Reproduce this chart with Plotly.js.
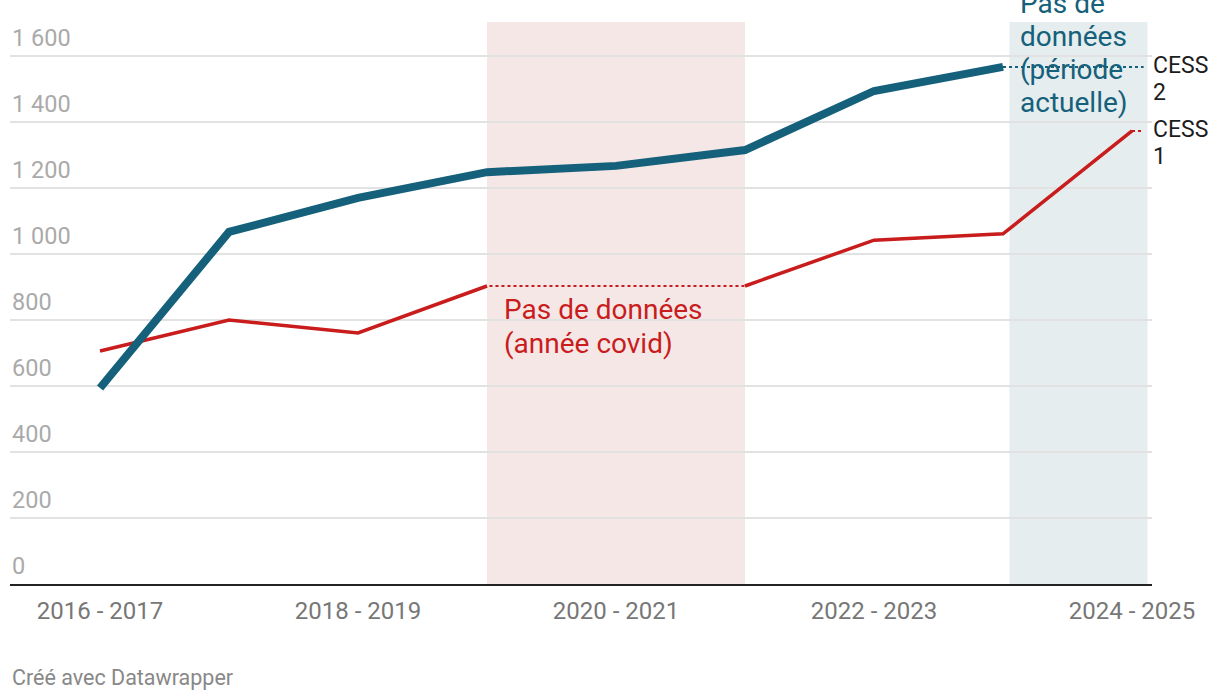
<!DOCTYPE html>
<html>
<head>
<meta charset="utf-8">
<script src="https://cdn.plot.ly/plotly-3.0.1.min.js"></script>
<style>
  html, body { margin: 0; padding: 0; background: #fff; }
  #chart { width: 1220px; height: 700px; }
</style>
</head>
<body>
<div id="chart"></div>
<script>
// ---- data ----
const categories = ["2016 - 2017", "2017 - 2018", "2018 - 2019", "2019 - 2020", "2020 - 2021",
                    "2021 - 2022", "2022 - 2023", "2023 - 2024", "2024 - 2025"];
const cess2 = [594, 1067, 1170, 1248, 1267, 1315, 1494, 1567, null];
const cess1 = [706, 800, 761, 903, null, 903, 1042, 1061, 1373];
const xTickLabels = ["2016 - 2017", "2018 - 2019", "2020 - 2021", "2022 - 2023", "2024 - 2025"];
const yTickValues = [0, 200, 400, 600, 800, 1000, 1200, 1400, 1600];
const yTickLabels = ["0", "200", "400", "600", "800", "1 000", "1 200", "1 400", "1 600"];
const cess2Label = ["CESS", "2"];
const cess1Label = ["CESS", "1"];
const covidNote = ["Pas de données", "(année covid)"];
const currentNote = ["Pas de", "données", "(période", "actuelle)"];
const covidRange = ["2019 - 2020", "2021 - 2022"];
const currentRange = ["2023 - 2024", "2024 - 2025"];
const credit = "Créé avec Datawrapper";

const BLUE = "#15607a";
const RED = "#c91d1d";
const idx = c => categories.indexOf(c);
const xs = categories.map((c, i) => i);

const lastIdx = arr => { let k = arr.length - 1; while (arr[k] == null) k--; return k; };
const bLast = lastIdx(cess2), rLast = lastIdx(cess1);
const extEnd = categories.length - 1 + 0.09;

const traces = [
  { x: xs, y: cess1, mode: "lines", connectgaps: true, hoverinfo: "skip",
    line: { color: RED, width: 2, dash: "dot" }, showlegend: false },
  { x: [rLast, extEnd], y: [cess1[rLast], cess1[rLast]], mode: "lines", hoverinfo: "skip",
    line: { color: RED, width: 2, dash: "dot" }, showlegend: false },
  { x: [bLast, extEnd], y: [cess2[bLast], cess2[bLast]], mode: "lines", hoverinfo: "skip",
    line: { color: BLUE, width: 2, dash: "dot" }, showlegend: false },
  { x: xs, y: cess1, name: "CESS 1", mode: "lines", connectgaps: false,
    line: { color: RED, width: 3.5 }, showlegend: false },
  { x: xs, y: cess2, name: "CESS 2", mode: "lines",
    line: { color: BLUE, width: 8 }, showlegend: false }
];

const font = "Roboto, 'Noto Sans', sans-serif";
const annotations = [];
yTickValues.forEach((v, i) => {
  annotations.push({ xref: "paper", x: 0, xanchor: "left", yref: "y", y: v, yanchor: "middle",
    yshift: 18, text: yTickLabels[i], showarrow: false,
    font: { family: font, size: 23.5, color: "#aaaaaa" } });
});
[[cess2Label, cess2[bLast]], [cess1Label, cess1[rLast]]].forEach(([lines, v]) => {
  lines.forEach((t, j) => {
    annotations.push({ xref: "paper", x: 1, xanchor: "left", xshift: -1, yref: "y", y: v,
      yanchor: "middle", yshift: 1 - j * 27, text: t, showarrow: false,
      font: { family: font, size: 23, color: "#1d1d1d" } });
  });
});
covidNote.forEach((t, j) => {
  annotations.push({ xref: "x", x: idx(covidRange[0]), xanchor: "left", xshift: 15, yref: "y",
    y: cess1[idx(covidRange[0])], yanchor: "middle", yshift: -23 - j * 34, text: t, showarrow: false,
    font: { family: font, size: 28, color: RED } });
});
currentNote.forEach((t, j) => {
  annotations.push({ xref: "x", x: idx(currentRange[0]), xanchor: "left", xshift: 15, yref: "paper",
    y: 1, yanchor: "middle", yshift: 19 - j * 33, text: t, showarrow: false,
    font: { family: font, size: 28, color: BLUE } });
});
annotations.push({ xref: "paper", x: 0, xanchor: "left", yref: "paper", y: 0, yanchor: "middle",
  yshift: -93, text: credit, showarrow: false,
  font: { family: font, size: 21.5, color: "#888888" } });

const layout = {
  width: 1220, height: 700,
  margin: { l: 10, r: 68, t: 22, b: 116 },
  paper_bgcolor: "#ffffff", plot_bgcolor: "#ffffff",
  showlegend: false,
  xaxis: {
    range: [-0.698, 8.155], tickvals: [0, 2, 4, 6, 8], ticktext: xTickLabels,
    showgrid: false, zeroline: false, showline: true, linecolor: "#222222", linewidth: 2,
    ticks: "", ticklabelstandoff: 4,
    tickfont: { family: font, size: 24, color: "#777777" }
  },
  yaxis: {
    range: [0, 1703], tickvals: yTickValues, showticklabels: false,
    showgrid: true, gridcolor: "#e2e2e2", gridwidth: 1.5, zeroline: false, ticks: ""
  },
  shapes: [
    { type: "rect", layer: "below", xref: "x", yref: "paper", x0: idx(covidRange[0]), x1: idx(covidRange[1]),
      y0: 0, y1: 1, fillcolor: "#f6e7e7", line: { width: 0 } },
    { type: "rect", layer: "below", xref: "x", yref: "paper", x0: idx(currentRange[0]) + 0.05, x1: idx(currentRange[1]) + 0.12,
      y0: 0, y1: 1, fillcolor: "#e5edef", line: { width: 0 } }
  ],
  annotations: annotations
};

Plotly.newPlot("chart", traces, layout, { staticPlot: true, displayModeBar: false });
</script>
</body>
</html>
